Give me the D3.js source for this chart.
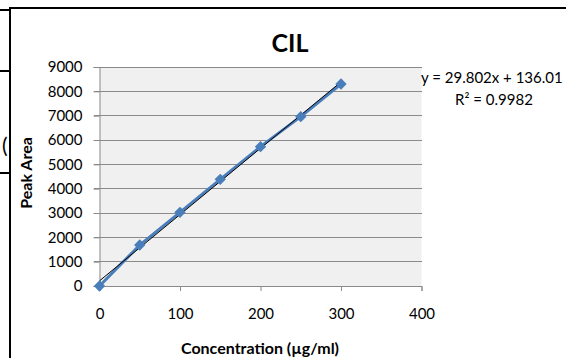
<!DOCTYPE html>
<html><head><meta charset="utf-8">
<script src="https://cdn.jsdelivr.net/npm/d3@7"></script>
<style>
body{margin:0;background:#fff;}
svg{display:block;font-family:Lato,"Open Sans",sans-serif;}
</style></head>
<body><svg id="c" width="566" height="358"></svg>
<script>
const concentrations = [0, 50, 100, 150, 200, 250, 300];
const peakAreas = [0, 1685, 3029, 4384, 5726, 6959, 8302];
const xTicks = [0, 100, 200, 300, 400];
const yTicks = [0, 1000, 2000, 3000, 4000, 5000, 6000, 7000, 8000, 9000];
const titleText = "CIL";
const equationText = "y = 29.802x + 136.01";
const r2Text = "R² = 0.9982";
const xLabel = "Concentration (µg/ml)";
const yLabel = "Peak Area";

const svg = d3.select("#c");
const x = d3.scaleLinear().domain([0, 400]).range([99.5, 421.5]);
const y = d3.scaleLinear().domain([0, 9000]).range([286, 67]);

// surrounding frame fragments
svg.append("line").attr("x1",10).attr("x2",566).attr("y1",8).attr("y2",8).attr("stroke","#000").attr("stroke-width",2);
svg.append("line").attr("x1",10).attr("x2",10).attr("y1",7).attr("y2",358).attr("stroke","#000").attr("stroke-width",2);
[10, 71, 173].forEach(v=>svg.append("line").attr("x1",0).attr("x2",10).attr("y1",v).attr("y2",v).attr("stroke","#000").attr("stroke-width",2));
svg.append("text").attr("x",2).attr("y",153).attr("font-size",21).attr("font-family","Lato").text("(");

// plot background
svg.append("rect").attr("x",x(0)).attr("y",y(9000)).attr("width",x(400)-x(0)).attr("height",y(0)-y(9000)).attr("fill","#f0f0f0");

// gridlines
svg.append("g").selectAll("line").data(yTicks.filter(d=>d>0)).join("line")
  .attr("x1",x(0)-6).attr("x2",x(400)).attr("y1",d=>y(d)).attr("y2",d=>y(d))
  .attr("stroke","#8a8a8a").attr("stroke-width",1).attr("shape-rendering","crispEdges");

// axes
const yAxis = d3.axisLeft(y).tickValues(yTicks).tickSize(6).tickPadding(11).tickFormat(d3.format("d"));
const gy = svg.append("g").attr("transform",`translate(${x(0)},0)`).call(yAxis);
const xAxis = d3.axisBottom(x).tickValues(xTicks).tickSize(5).tickPadding(17).tickFormat(d3.format("d"));
const gx = svg.append("g").attr("transform",`translate(0,${y(0)})`).call(xAxis);
[gx, gy].forEach(g=>{
  g.selectAll("path").attr("stroke","#8a8a8a");
  g.selectAll("line").attr("stroke","#8a8a8a");
  g.selectAll("text").attr("font-size",15).attr("fill","#000").attr("font-family","Lato");
});

// series line
const line = d3.line().x((d,i)=>x(concentrations[i])).y(d=>y(d));
svg.append("path").datum(peakAreas).attr("d",line).attr("fill","none").attr("stroke","#4a7ebb").attr("stroke-width",3);

// trendline (least squares)
const mx = d3.mean(concentrations), my = d3.mean(peakAreas);
const slope = d3.sum(concentrations,(c,i)=>(c-mx)*(peakAreas[i]-my))/d3.sum(concentrations,c=>(c-mx)*(c-mx));
const icpt = my - slope*mx;
const xs = [0, 300];
svg.append("line").attr("x1",x(xs[0])).attr("y1",y(icpt+slope*xs[0])).attr("x2",x(xs[1])).attr("y2",y(icpt+slope*xs[1]))
  .attr("stroke","#000").attr("stroke-width",1);

// markers
const sym = d3.symbol().type(d3.symbolSquare).size(64);
svg.append("g").selectAll("path").data(peakAreas).join("path")
  .attr("d",sym).attr("transform",(d,i)=>`translate(${x(concentrations[i])},${y(d)}) rotate(45)`)
  .attr("fill","#4a7ebb");

// texts
svg.append("text").attr("x",290).attr("y",52).attr("text-anchor","middle").attr("font-size",25).attr("font-weight","bold").text(titleText);
svg.append("text").attr("x",421).attr("y",83).attr("font-size",15).text(equationText);
svg.append("text").attr("x",494).attr("y",105).attr("text-anchor","middle").attr("font-size",15).text(r2Text);
svg.append("text").attr("x",260).attr("y",354).attr("text-anchor","middle").attr("font-size",16).attr("font-weight","bold").text(xLabel);
svg.append("text").attr("transform","translate(32,173) rotate(-90)").attr("text-anchor","middle").attr("font-size",16).attr("font-weight","bold").text(yLabel);
</script></body></html>
